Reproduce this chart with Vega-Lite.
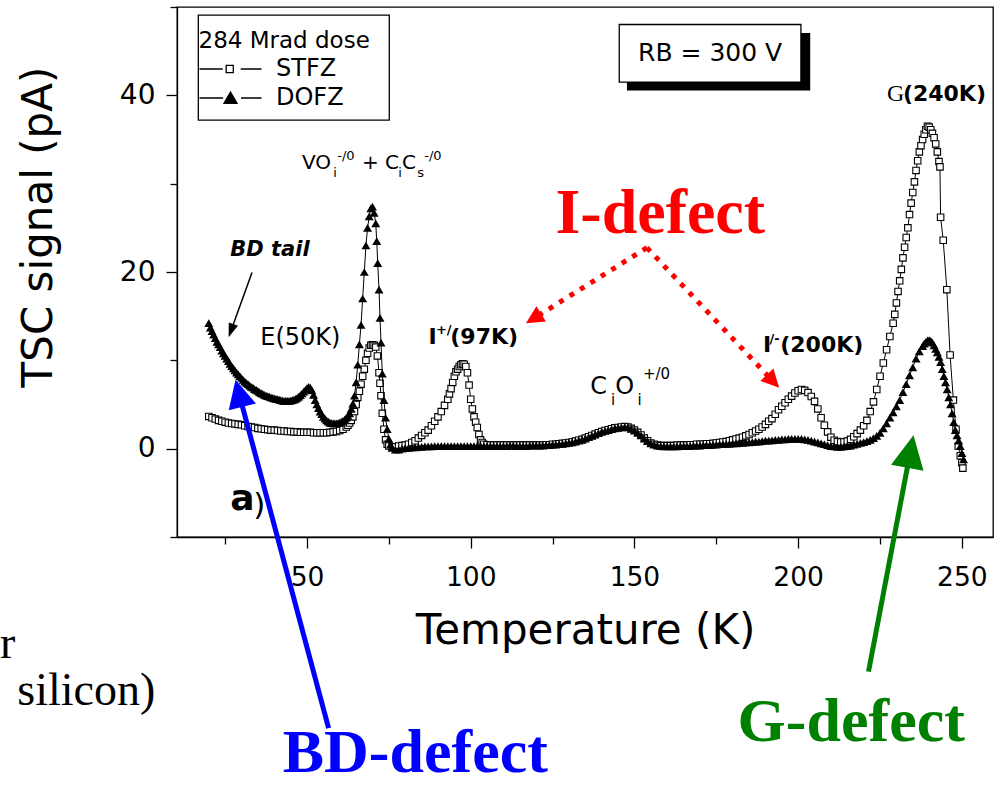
{
  "$schema": "https://vega.github.io/schema/vega-lite/v6.json",
  "width": 816,
  "height": 530,
  "autosize": {"type": "none"},
  "padding": {"left": 177, "top": 7, "right": 1, "bottom": 251},
  "background": "white",
  "config": {
    "view": {"stroke": "black", "strokeWidth": 1.3},
    "axis": {"grid": false, "domainColor": "black", "domainWidth": 1.3, "tickColor": "black", "tickWidth": 1.3, "labelColor": "black", "titleColor": "black", "labelFont": "DejaVu Sans", "titleFont": "DejaVu Sans", "titleFontWeight": "normal", "labelOverlap": false, "labelFlush": false},
    "text": {"font": "DejaVu Sans"}
  },
  "datasets": {
    "stfz": [
      {"T":20,"V":3.65},{"T":21,"V":3.5},{"T":22,"V":3.35},{"T":23,"V":3.2},{"T":24,"V":3.1},{"T":25,"V":3.0},{"T":26,"V":2.9},{"T":27,"V":2.85},{"T":28,"V":2.8},{"T":29,"V":2.75},{"T":30,"V":2.7},{"T":31,"V":2.6},{"T":32,"V":2.5},{"T":33,"V":2.45},{"T":34,"V":2.4},{"T":35,"V":2.3},{"T":36,"V":2.25},{"T":37,"V":2.2},{"T":38,"V":2.15},{"T":39,"V":2.1},{"T":40,"V":2.1},{"T":41,"V":2.05},{"T":42,"V":2.0},{"T":43,"V":2.0},{"T":44,"V":1.95},{"T":45,"V":1.95},{"T":46,"V":1.9},{"T":47,"V":1.9},{"T":48,"V":1.85},{"T":49,"V":1.85},{"T":50,"V":1.85},{"T":51,"V":1.85},{"T":52,"V":1.8},{"T":53,"V":1.8},{"T":54,"V":1.8},{"T":55,"V":1.8},{"T":56,"V":1.8},{"T":57,"V":1.85},{"T":58,"V":1.9},{"T":59,"V":1.95},{"T":60,"V":2.05},{"T":61,"V":2.2},{"T":62,"V":2.45},{"T":62.5,"V":2.65},{"T":63,"V":2.9},{"T":63.5,"V":3.2},{"T":64,"V":3.6},{"T":64.5,"V":4.2},{"T":65,"V":5.0},{"T":65.5,"V":5.8},{"T":66,"V":6.5},{"T":66.5,"V":7.3},{"T":67,"V":8.2},{"T":67.5,"V":9.0},{"T":68,"V":10.0},{"T":68.5,"V":10.8},{"T":69,"V":11.4},{"T":69.5,"V":11.7},{"T":70,"V":11.75},{"T":70.5,"V":11.7},{"T":71,"V":11.5},{"T":71.5,"V":10.5},{"T":72,"V":8.6},{"T":72.3,"V":7.4},{"T":72.6,"V":6.0},{"T":73,"V":4.0},{"T":73.5,"V":2.2},{"T":74,"V":1.0},{"T":74.5,"V":0.5},{"T":75,"V":0.3},{"T":76,"V":0.2},{"T":77,"V":0.2},{"T":78,"V":0.3},{"T":79,"V":0.35},{"T":80,"V":0.4},{"T":81,"V":0.5},{"T":82,"V":0.7},{"T":83,"V":0.9},{"T":84,"V":1.2},{"T":85,"V":1.5},{"T":86,"V":1.8},{"T":87,"V":2.1},{"T":88,"V":2.6},{"T":89,"V":3.1},{"T":90,"V":3.6},{"T":91,"V":4.2},{"T":92,"V":4.9},{"T":93,"V":5.6},{"T":93.5,"V":6.2},{"T":94,"V":6.8},{"T":94.5,"V":7.5},{"T":95,"V":8.2},{"T":95.5,"V":8.7},{"T":96,"V":9.0},{"T":96.5,"V":9.3},{"T":97,"V":9.5},{"T":97.5,"V":9.6},{"T":98,"V":9.55},{"T":98.5,"V":9.3},{"T":99,"V":8.6},{"T":99.5,"V":7.2},{"T":100,"V":5.6},{"T":100.5,"V":4.5},{"T":101,"V":3.6},{"T":101.5,"V":3.0},{"T":102,"V":2.4},{"T":102.5,"V":1.6},{"T":103,"V":1.0},{"T":103.5,"V":0.7},{"T":104,"V":0.5},{"T":105,"V":0.45},{"T":106,"V":0.4},{"T":107,"V":0.4},{"T":108,"V":0.4},{"T":109,"V":0.4},{"T":110,"V":0.4},{"T":111,"V":0.4},{"T":112,"V":0.4},{"T":113,"V":0.4},{"T":114,"V":0.4},{"T":115,"V":0.4},{"T":116,"V":0.4},{"T":117,"V":0.4},{"T":118,"V":0.4},{"T":119,"V":0.4},{"T":120,"V":0.4},{"T":121,"V":0.4},{"T":122,"V":0.4},{"T":123,"V":0.45},{"T":124,"V":0.45},{"T":125,"V":0.5},{"T":126,"V":0.5},{"T":127,"V":0.55},{"T":128,"V":0.6},{"T":129,"V":0.65},{"T":130,"V":0.7},{"T":131,"V":0.75},{"T":132,"V":0.85},{"T":133,"V":0.95},{"T":134,"V":1.05},{"T":135,"V":1.2},{"T":136,"V":1.35},{"T":137,"V":1.5},{"T":138,"V":1.65},{"T":139,"V":1.8},{"T":140,"V":1.95},{"T":141,"V":2.05},{"T":142,"V":2.15},{"T":143,"V":2.25},{"T":144,"V":2.35},{"T":145,"V":2.4},{"T":146,"V":2.45},{"T":147,"V":2.5},{"T":148,"V":2.45},{"T":149,"V":2.3},{"T":150,"V":2.1},{"T":151,"V":1.85},{"T":152,"V":1.55},{"T":153,"V":1.2},{"T":154,"V":0.9},{"T":155,"V":0.65},{"T":156,"V":0.5},{"T":157,"V":0.4},{"T":158,"V":0.35},{"T":159,"V":0.35},{"T":160,"V":0.35},{"T":161,"V":0.35},{"T":162,"V":0.35},{"T":163,"V":0.4},{"T":164,"V":0.4},{"T":165,"V":0.4},{"T":166,"V":0.4},{"T":167,"V":0.45},{"T":168,"V":0.45},{"T":169,"V":0.5},{"T":170,"V":0.5},{"T":171,"V":0.5},{"T":172,"V":0.55},{"T":173,"V":0.55},{"T":174,"V":0.6},{"T":175,"V":0.65},{"T":176,"V":0.7},{"T":177,"V":0.75},{"T":178,"V":0.8},{"T":179,"V":0.9},{"T":180,"V":1.0},{"T":181,"V":1.1},{"T":182,"V":1.2},{"T":183,"V":1.3},{"T":184,"V":1.45},{"T":185,"V":1.6},{"T":186,"V":1.8},{"T":187,"V":2.0},{"T":188,"V":2.2},{"T":189,"V":2.45},{"T":190,"V":2.75},{"T":191,"V":3.1},{"T":192,"V":3.4},{"T":193,"V":3.9},{"T":194,"V":4.4},{"T":195,"V":4.8},{"T":196,"V":5.2},{"T":197,"V":5.6},{"T":198,"V":5.95},{"T":199,"V":6.3},{"T":200,"V":6.55},{"T":201,"V":6.7},{"T":202,"V":6.6},{"T":203,"V":6.35},{"T":204,"V":5.9},{"T":205,"V":5.35},{"T":206,"V":4.5},{"T":207,"V":3.5},{"T":208,"V":2.65},{"T":209,"V":1.9},{"T":210,"V":1.3},{"T":211,"V":0.95},{"T":212,"V":0.8},{"T":213,"V":0.75},{"T":214,"V":0.75},{"T":215,"V":0.85},{"T":216,"V":1.05},{"T":217,"V":1.35},{"T":218,"V":1.7},{"T":219,"V":2.1},{"T":220,"V":2.6},{"T":221,"V":3.2},{"T":222,"V":4.2},{"T":223,"V":5.3},{"T":224,"V":6.7},{"T":225,"V":8.2},{"T":226,"V":9.7},{"T":227,"V":11.2},{"T":228,"V":12.7},{"T":229,"V":14.2},{"T":229.5,"V":15.2},{"T":230,"V":16.5},{"T":230.5,"V":17.8},{"T":231,"V":19.0},{"T":231.5,"V":20.3},{"T":232,"V":21.6},{"T":232.5,"V":22.8},{"T":233,"V":23.9},{"T":233.5,"V":25.0},{"T":234,"V":26.5},{"T":234.5,"V":27.8},{"T":235,"V":29.0},{"T":235.5,"V":30.2},{"T":236,"V":31.5},{"T":236.5,"V":32.6},{"T":237,"V":33.6},{"T":237.5,"V":34.3},{"T":238,"V":35.0},{"T":238.5,"V":35.6},{"T":239,"V":36.1},{"T":239.5,"V":36.5},{"T":240,"V":36.4},{"T":240.5,"V":36.1},{"T":241,"V":35.7},{"T":241.5,"V":35.2},{"T":242,"V":34.5},{"T":242.5,"V":33.6},{"T":243,"V":32.5},{"T":243.3,"V":31.9},{"T":243.5,"V":26.2},{"T":244.3,"V":23.6},{"T":245.4,"V":18.0},{"T":246.4,"V":10.6},{"T":247.4,"V":5.5},{"T":248.2,"V":2.2},{"T":248.9,"V":0.3},{"T":249.5,"V":-0.8},{"T":250,"V":-1.6},{"T":250.3,"V":-2.2}
    ],
    "dofz": [
      {"T":20,"V":14.2},{"T":20.5,"V":13.7},{"T":21,"V":13.3},{"T":21.5,"V":12.9},{"T":22,"V":12.5},{"T":22.5,"V":12.1},{"T":23,"V":11.8},{"T":23.5,"V":11.5},{"T":24,"V":11.1},{"T":24.5,"V":10.8},{"T":25,"V":10.5},{"T":25.5,"V":10.2},{"T":26,"V":9.9},{"T":26.5,"V":9.6},{"T":27,"V":9.35},{"T":27.5,"V":9.1},{"T":28,"V":8.85},{"T":28.5,"V":8.6},{"T":29,"V":8.4},{"T":29.5,"V":8.2},{"T":30,"V":8.0},{"T":30.5,"V":7.8},{"T":31,"V":7.6},{"T":31.5,"V":7.45},{"T":32,"V":7.3},{"T":32.5,"V":7.15},{"T":33,"V":7.0},{"T":33.5,"V":6.9},{"T":34,"V":6.75},{"T":34.5,"V":6.65},{"T":35,"V":6.55},{"T":35.5,"V":6.4},{"T":36,"V":6.3},{"T":36.5,"V":6.2},{"T":37,"V":6.1},{"T":37.5,"V":6.0},{"T":38,"V":5.95},{"T":38.5,"V":5.9},{"T":39,"V":5.8},{"T":39.5,"V":5.75},{"T":40,"V":5.7},{"T":40.5,"V":5.65},{"T":41,"V":5.6},{"T":41.5,"V":5.55},{"T":42,"V":5.5},{"T":42.5,"V":5.45},{"T":43,"V":5.4},{"T":43.5,"V":5.4},{"T":44,"V":5.4},{"T":44.5,"V":5.4},{"T":45,"V":5.45},{"T":45.5,"V":5.5},{"T":46,"V":5.55},{"T":46.5,"V":5.65},{"T":47,"V":5.75},{"T":47.5,"V":5.9},{"T":48,"V":6.05},{"T":48.5,"V":6.25},{"T":49,"V":6.45},{"T":49.5,"V":6.65},{"T":50,"V":6.85},{"T":50.5,"V":7.0},{"T":51,"V":6.9},{"T":51.5,"V":6.6},{"T":52,"V":6.1},{"T":52.5,"V":5.5},{"T":53,"V":5.0},{"T":53.5,"V":4.6},{"T":54,"V":4.2},{"T":54.5,"V":3.9},{"T":55,"V":3.6},{"T":55.5,"V":3.4},{"T":56,"V":3.2},{"T":56.5,"V":3.05},{"T":57,"V":2.95},{"T":57.5,"V":2.9},{"T":58,"V":2.85},{"T":58.5,"V":2.85},{"T":59,"V":2.85},{"T":59.5,"V":2.9},{"T":60,"V":2.95},{"T":60.5,"V":3.05},{"T":61,"V":3.15},{"T":61.5,"V":3.3},{"T":62,"V":3.5},{"T":62.5,"V":3.75},{"T":63,"V":4.0},{"T":63.5,"V":4.5},{"T":64,"V":5.1},{"T":64.5,"V":6.0},{"T":65,"V":7.5},{"T":65.5,"V":9.5},{"T":66,"V":11.8},{"T":66.5,"V":14.0},{"T":67,"V":17.0},{"T":67.5,"V":20.0},{"T":68,"V":23.0},{"T":68.5,"V":25.0},{"T":69,"V":26.3},{"T":69.5,"V":27.2},{"T":70,"V":27.4},{"T":70.5,"V":26.7},{"T":71,"V":25.5},{"T":71.3,"V":23.5},{"T":71.6,"V":21.0},{"T":72,"V":18.0},{"T":72.3,"V":14.8},{"T":72.6,"V":12.0},{"T":73,"V":8.5},{"T":73.5,"V":5.5},{"T":74,"V":3.5},{"T":74.5,"V":2.2},{"T":75,"V":1.1},{"T":75.5,"V":0.45},{"T":76,"V":0.1},{"T":77,"V":-0.1},{"T":78,"V":-0.1},{"T":79,"V":0.0},{"T":80,"V":0.05},{"T":81,"V":0.1},{"T":82,"V":0.15},{"T":83,"V":0.15},{"T":84,"V":0.2},{"T":85,"V":0.2},{"T":86,"V":0.25},{"T":87,"V":0.25},{"T":88,"V":0.25},{"T":89,"V":0.3},{"T":90,"V":0.3},{"T":91,"V":0.3},{"T":92,"V":0.3},{"T":93,"V":0.3},{"T":94,"V":0.3},{"T":95,"V":0.3},{"T":96,"V":0.3},{"T":97,"V":0.3},{"T":98,"V":0.3},{"T":99,"V":0.3},{"T":100,"V":0.3},{"T":101,"V":0.3},{"T":102,"V":0.3},{"T":103,"V":0.3},{"T":104,"V":0.3},{"T":105,"V":0.3},{"T":106,"V":0.3},{"T":107,"V":0.3},{"T":108,"V":0.3},{"T":109,"V":0.3},{"T":110,"V":0.3},{"T":111,"V":0.3},{"T":112,"V":0.35},{"T":113,"V":0.35},{"T":114,"V":0.3},{"T":115,"V":0.3},{"T":116,"V":0.3},{"T":117,"V":0.3},{"T":118,"V":0.35},{"T":119,"V":0.35},{"T":120,"V":0.35},{"T":121,"V":0.35},{"T":122,"V":0.35},{"T":123,"V":0.4},{"T":124,"V":0.4},{"T":125,"V":0.45},{"T":126,"V":0.45},{"T":127,"V":0.5},{"T":128,"V":0.55},{"T":129,"V":0.6},{"T":130,"V":0.65},{"T":131,"V":0.7},{"T":132,"V":0.8},{"T":133,"V":0.9},{"T":134,"V":1.0},{"T":135,"V":1.15},{"T":136,"V":1.3},{"T":137,"V":1.45},{"T":138,"V":1.6},{"T":139,"V":1.75},{"T":140,"V":1.9},{"T":141,"V":2.0},{"T":142,"V":2.1},{"T":143,"V":2.2},{"T":144,"V":2.3},{"T":145,"V":2.35},{"T":146,"V":2.4},{"T":147,"V":2.45},{"T":148,"V":2.4},{"T":149,"V":2.25},{"T":150,"V":2.05},{"T":151,"V":1.8},{"T":152,"V":1.5},{"T":153,"V":1.15},{"T":154,"V":0.85},{"T":155,"V":0.6},{"T":156,"V":0.45},{"T":157,"V":0.35},{"T":158,"V":0.3},{"T":159,"V":0.25},{"T":160,"V":0.25},{"T":161,"V":0.25},{"T":162,"V":0.25},{"T":163,"V":0.25},{"T":164,"V":0.3},{"T":165,"V":0.3},{"T":166,"V":0.3},{"T":167,"V":0.3},{"T":168,"V":0.35},{"T":169,"V":0.35},{"T":170,"V":0.35},{"T":171,"V":0.4},{"T":172,"V":0.4},{"T":173,"V":0.4},{"T":174,"V":0.45},{"T":175,"V":0.45},{"T":176,"V":0.5},{"T":177,"V":0.5},{"T":178,"V":0.55},{"T":179,"V":0.55},{"T":180,"V":0.6},{"T":181,"V":0.6},{"T":182,"V":0.65},{"T":183,"V":0.65},{"T":184,"V":0.7},{"T":185,"V":0.7},{"T":186,"V":0.75},{"T":187,"V":0.8},{"T":188,"V":0.8},{"T":189,"V":0.85},{"T":190,"V":0.9},{"T":191,"V":0.9},{"T":192,"V":0.95},{"T":193,"V":1.0},{"T":194,"V":1.0},{"T":195,"V":1.05},{"T":196,"V":1.05},{"T":197,"V":1.1},{"T":198,"V":1.1},{"T":199,"V":1.1},{"T":200,"V":1.1},{"T":201,"V":1.1},{"T":202,"V":1.05},{"T":203,"V":1.0},{"T":204,"V":0.9},{"T":205,"V":0.8},{"T":206,"V":0.7},{"T":207,"V":0.6},{"T":208,"V":0.5},{"T":209,"V":0.4},{"T":210,"V":0.3},{"T":211,"V":0.25},{"T":212,"V":0.2},{"T":213,"V":0.2},{"T":214,"V":0.25},{"T":215,"V":0.3},{"T":216,"V":0.35},{"T":217,"V":0.45},{"T":218,"V":0.55},{"T":219,"V":0.65},{"T":220,"V":0.75},{"T":221,"V":0.85},{"T":222,"V":1.0},{"T":223,"V":1.2},{"T":224,"V":1.45},{"T":225,"V":1.8},{"T":226,"V":2.3},{"T":227,"V":2.85},{"T":228,"V":3.5},{"T":229,"V":4.1},{"T":230,"V":4.8},{"T":231,"V":5.5},{"T":232,"V":6.4},{"T":233,"V":7.3},{"T":234,"V":8.3},{"T":235,"V":9.2},{"T":236,"V":10.2},{"T":237,"V":11.0},{"T":238,"V":11.6},{"T":238.5,"V":11.9},{"T":239,"V":12.1},{"T":239.5,"V":12.25},{"T":240,"V":12.3},{"T":240.5,"V":12.2},{"T":241,"V":12.0},{"T":241.5,"V":11.7},{"T":242,"V":11.3},{"T":242.5,"V":10.9},{"T":243,"V":10.4},{"T":243.5,"V":9.8},{"T":244,"V":9.0},{"T":244.5,"V":8.2},{"T":245,"V":7.5},{"T":245.5,"V":6.7},{"T":246,"V":5.8},{"T":246.5,"V":5.0},{"T":247,"V":4.0},{"T":247.5,"V":3.0},{"T":248,"V":2.1},{"T":248.5,"V":1.5},{"T":249,"V":0.9},{"T":249.5,"V":0.3},{"T":250,"V":-0.5},{"T":250.5,"V":-1.2}
    ]
  },
  "layer": [
    {
      "data": {"values": [{"T": 16.81, "V": 37.2, "T2": 75.13, "V2": 49.07}]},
      "mark": {"type": "rect", "fill": "white", "stroke": "black", "strokeWidth": 1.3},
      "encoding": {
        "x": {"field": "T", "type": "quantitative", "scale": {"domain": [10.3, 259.5], "nice": false, "zero": false},
          "axis": {"title": "Temperature (K)", "values": [25, 50, 75, 100, 125, 150, 175, 200, 225, 250],
            "labelExpr": "datum.value % 50 === 0 ? datum.label : ''",
            "tickSize": {"condition": {"test": "datum.value % 50 === 0", "value": 11}, "value": 7},
            "labelFontSize": 26.5, "labelPadding": 37, "labelBaseline": "alphabetic",
            "titleFontSize": 42, "titleX": 408, "titleY": 106.3, "titleBaseline": "alphabetic", "titleAlign": "center"}},
        "x2": {"field": "T2"},
        "y": {"field": "V", "type": "quantitative", "scale": {"domain": [-10, 50], "nice": false, "zero": false},
          "axis": {"title": "TSC signal (pA)", "values": [-10, 0, 10, 20, 30, 40, 50],
            "labelExpr": "datum.value % 20 === 0 ? datum.label : ''",
            "tickSize": {"condition": {"test": "datum.value % 20 === 0", "value": 11}, "value": 7},
            "labelFontSize": 28, "labelPadding": 11,
            "titleFontSize": 42, "titleX": -126, "titleY": 219.5, "titleAngle": -90, "titleBaseline": "alphabetic", "titleAlign": "center"}},
        "y2": {"field": "V2"}
      }
    },
    {
      "data": {"values": [{"T": 147.71, "V": 40.56, "T2": 203.68, "V2": 47.07}]},
      "mark": {"type": "rect", "fill": "black"},
      "encoding": {"x": {"field": "T", "type": "quantitative"}, "x2": {"field": "T2"}, "y": {"field": "V", "type": "quantitative"}, "y2": {"field": "V2"}}
    },
    {
      "data": {"values": [{"T": 145.36, "V": 41.5, "T2": 200.84, "V2": 48.02}]},
      "mark": {"type": "rect", "fill": "white", "stroke": "black", "strokeWidth": 1.3},
      "encoding": {"x": {"field": "T", "type": "quantitative"}, "x2": {"field": "T2"}, "y": {"field": "V", "type": "quantitative"}, "y2": {"field": "V2"}}
    },
    {
      "data": {"values": [{"T": 173.1, "V": 44.78, "label": "RB = 300 V"}]},
      "mark": {"type": "text", "font": "DejaVu Sans", "fontSize": 25, "align": "center", "baseline": "middle", "color": "black"},
      "encoding": {"x": {"field": "T", "type": "quantitative"}, "y": {"field": "V", "type": "quantitative"}, "text": {"field": "label"}}
    },
    {
      "data": {"name": "stfz"},
      "mark": {"type": "line", "color": "black", "strokeWidth": 1},
      "encoding": {"x": {"field": "T", "type": "quantitative"}, "y": {"field": "V", "type": "quantitative"}}
    },
    {
      "data": {"name": "stfz"},
      "mark": {"type": "point", "shape": "square", "filled": true, "fill": "white", "stroke": "black", "strokeWidth": 1.1, "size": 42, "opacity": 1},
      "encoding": {"x": {"field": "T", "type": "quantitative"}, "y": {"field": "V", "type": "quantitative"}}
    },
    {
      "data": {"name": "dofz"},
      "mark": {"type": "line", "color": "black", "strokeWidth": 1},
      "encoding": {"x": {"field": "T", "type": "quantitative"}, "y": {"field": "V", "type": "quantitative"}}
    },
    {
      "data": {"name": "dofz"},
      "mark": {"type": "point", "shape": "triangle-up", "filled": true, "color": "black", "size": 80, "opacity": 1},
      "encoding": {"x": {"field": "T", "type": "quantitative"}, "y": {"field": "V", "type": "quantitative"}}
    },
    {
      "data": {"values": [{"T": 35.74, "V": 11.79, "label": "E(50K)"}]},
      "mark": {"type": "text", "font": "DejaVu Sans", "fontSize": 24, "align": "left", "baseline": "alphabetic", "color": "black"},
      "encoding": {"x": {"field": "T", "type": "quantitative"}, "y": {"field": "V", "type": "quantitative"}, "text": {"field": "label"}}
    },
    {
      "data": {"values": [{"T": 48.47, "V": 31.64, "label": "VO"}, {"T": 66.79, "V": 31.64, "label": "+ C"}, {"T": 79.01, "V": 31.64, "label": "C"}]},
      "mark": {"type": "text", "font": "DejaVu Sans", "fontSize": 20, "align": "left", "baseline": "alphabetic", "color": "black"},
      "encoding": {"x": {"field": "T", "type": "quantitative"}, "y": {"field": "V", "type": "quantitative"}, "text": {"field": "label"}}
    },
    {
      "data": {"values": [{"T": 58.03, "V": 30.8, "label": "i"}, {"T": 77.88, "V": 30.8, "label": "i"}, {"T": 83.68, "V": 30.8, "label": "s"}, {"T": 59.24, "V": 32.66, "label": "-/0"}, {"T": 85.82, "V": 32.66, "label": "-/0"}]},
      "mark": {"type": "text", "font": "DejaVu Sans", "fontSize": 13, "align": "left", "baseline": "alphabetic", "color": "black"},
      "encoding": {"x": {"field": "T", "type": "quantitative"}, "y": {"field": "V", "type": "quantitative"}, "text": {"field": "label"}}
    },
    {
      "data": {"values": [{"T": 136.5, "V": 6.21, "label": "C"}, {"T": 144.14, "V": 6.21, "label": "O"}]},
      "mark": {"type": "text", "font": "DejaVu Sans", "fontSize": 24, "align": "left", "baseline": "alphabetic", "color": "black"},
      "encoding": {"x": {"field": "T", "type": "quantitative"}, "y": {"field": "V", "type": "quantitative"}, "text": {"field": "label"}}
    },
    {
      "data": {"values": [{"T": 142.82, "V": 4.89, "label": "i"}, {"T": 150.95, "V": 4.89, "label": "i"}, {"T": 152.6, "V": 7.94, "label": "+/0"}]},
      "mark": {"type": "text", "font": "DejaVu Sans", "fontSize": 15, "align": "left", "baseline": "alphabetic", "color": "black"},
      "encoding": {"x": {"field": "T", "type": "quantitative"}, "y": {"field": "V", "type": "quantitative"}, "text": {"field": "label"}}
    },
    {
      "data": {"values": [{"T": 87.13, "V": 11.86, "label": "I"}, {"T": 93.76, "V": 11.86, "label": "(97K)"}, {"T": 189.24, "V": 10.92, "label": "I"}, {"T": 194.52, "V": 10.92, "label": "(200K)"}, {"T": 231.98, "V": 39.36, "label": "(240K)"}]},
      "mark": {"type": "text", "font": "DejaVu Sans", "fontSize": 22, "fontWeight": "bold", "align": "left", "baseline": "alphabetic", "color": "black"},
      "encoding": {"x": {"field": "T", "type": "quantitative"}, "y": {"field": "V", "type": "quantitative"}, "text": {"field": "label"}}
    },
    {
      "data": {"values": [{"T": 89.39, "V": 13.03, "label": "+/"}, {"T": 191.25, "V": 12.0, "label": "/-"}]},
      "mark": {"type": "text", "font": "DejaVu Sans", "fontSize": 13, "fontWeight": "bold", "align": "left", "baseline": "alphabetic", "color": "black"},
      "encoding": {"x": {"field": "T", "type": "quantitative"}, "y": {"field": "V", "type": "quantitative"}, "text": {"field": "label"}}
    },
    {
      "data": {"values": [{"T": 227.1, "V": 39.36, "label": "G"}]},
      "mark": {"type": "text", "font": "Liberation Serif", "fontSize": 24, "align": "left", "baseline": "alphabetic", "color": "black"},
      "encoding": {"x": {"field": "T", "type": "quantitative"}, "y": {"field": "V", "type": "quantitative"}, "text": {"field": "label"}}
    },
    {
      "data": {"values": [{"T": 26.58, "V": 21.84, "label": "BD tail"}]},
      "mark": {"type": "text", "font": "DejaVu Sans", "fontSize": 21, "fontWeight": "bold", "fontStyle": "italic", "align": "left", "baseline": "alphabetic", "color": "black"},
      "encoding": {"x": {"field": "T", "type": "quantitative"}, "y": {"field": "V", "type": "quantitative"}, "text": {"field": "label"}}
    },
    {
      "data": {"values": [{"T": 26.58, "V": -6.97, "label": "a"}]},
      "mark": {"type": "text", "font": "DejaVu Sans", "fontSize": 36, "fontWeight": "bold", "align": "left", "baseline": "alphabetic", "color": "black"},
      "encoding": {"x": {"field": "T", "type": "quantitative"}, "y": {"field": "V", "type": "quantitative"}, "text": {"field": "label"}}
    },
    {
      "data": {"values": [{"T": 33.6, "V": -7.49, "label": ")"}]},
      "mark": {"type": "text", "font": "DejaVu Sans", "fontSize": 31, "align": "left", "baseline": "alphabetic", "color": "black"},
      "encoding": {"x": {"field": "T", "type": "quantitative"}, "y": {"field": "V", "type": "quantitative"}, "text": {"field": "label"}}
    },
    {
      "data": {"values": [{"T": -39.07, "V": -23.73, "label": "r"}]},
      "mark": {"type": "text", "font": "Liberation Serif", "fontSize": 46, "align": "right", "baseline": "alphabetic", "color": "black"},
      "encoding": {"x": {"field": "T", "type": "quantitative"}, "y": {"field": "V", "type": "quantitative"}, "text": {"field": "label"}}
    },
    {
      "data": {"values": [{"T": -38.46, "V": -29.0, "label": "silicon)"}]},
      "mark": {"type": "text", "font": "Liberation Serif", "fontSize": 46, "align": "left", "baseline": "alphabetic", "color": "black"},
      "encoding": {"x": {"field": "T", "type": "quantitative"}, "y": {"field": "V", "type": "quantitative"}, "text": {"field": "label"}}
    },
    {
      "data": {"values": [{"T": 153.82, "V": 22.75, "T2": 119.19, "V2": 14.73}, {"T": 153.82, "V": 22.75, "T2": 192.32, "V2": 7.63}]},
      "mark": {"type": "rule", "color": "#ff0000", "strokeWidth": 5, "strokeDash": [5, 7.3], "strokeCap": "butt"},
      "encoding": {"x": {"field": "T", "type": "quantitative"}, "y": {"field": "V", "type": "quantitative"}, "x2": {"field": "T2"}, "y2": {"field": "V2"}}
    },
    {
      "data": {"values": [{"T": 119.19, "V": 14.73}]},
      "mark": {"type": "point", "shape": "M0,-1L1,1L-1,1Z", "filled": true, "color": "#ff0000", "size": 324, "angle": 237.97, "opacity": 1},
      "encoding": {"x": {"field": "T", "type": "quantitative"}, "y": {"field": "V", "type": "quantitative"}}
    },
    {
      "data": {"values": [{"T": 192.32, "V": 7.63}]},
      "mark": {"type": "point", "shape": "M0,-1L1,1L-1,1Z", "filled": true, "color": "#ff0000", "size": 324, "angle": 136.68, "opacity": 1},
      "encoding": {"x": {"field": "T", "type": "quantitative"}, "y": {"field": "V", "type": "quantitative"}}
    },
    {
      "data": {"values": [{"T": 33.21, "V": 19.95, "T2": 26.79, "V2": 13.36}]},
      "mark": {"type": "rule", "color": "black", "strokeWidth": 1.5},
      "encoding": {"x": {"field": "T", "type": "quantitative"}, "y": {"field": "V", "type": "quantitative"}, "x2": {"field": "T2"}, "y2": {"field": "V2"}}
    },
    {
      "data": {"values": [{"T": 26.79, "V": 13.36}]},
      "mark": {"type": "point", "shape": "M0,-1L0.7,1L-0.7,1Z", "filled": true, "color": "black", "size": 196, "angle": 199.8, "opacity": 1},
      "encoding": {"x": {"field": "T", "type": "quantitative"}, "y": {"field": "V", "type": "quantitative"}}
    },
    {
      "data": {"values": [{"T": 56.6, "V": -31.64, "T2": 29.21, "V2": 6.27}]},
      "mark": {"type": "rule", "color": "#0000ff", "strokeWidth": 5},
      "encoding": {"x": {"field": "T", "type": "quantitative"}, "y": {"field": "V", "type": "quantitative"}, "x2": {"field": "T2"}, "y2": {"field": "V2"}}
    },
    {
      "data": {"values": [{"T": 29.21, "V": 6.27}]},
      "mark": {"type": "point", "shape": "M0,-1L1,1L-1,1Z", "filled": true, "color": "#0000ff", "size": 784, "angle": 346, "opacity": 1},
      "encoding": {"x": {"field": "T", "type": "quantitative"}, "y": {"field": "V", "type": "quantitative"}}
    },
    {
      "data": {"values": [{"T": 221.48, "V": -25.24, "T2": 234.27, "V2": -0.33}]},
      "mark": {"type": "rule", "color": "#008000", "strokeWidth": 5},
      "encoding": {"x": {"field": "T", "type": "quantitative"}, "y": {"field": "V", "type": "quantitative"}, "x2": {"field": "T2"}, "y2": {"field": "V2"}}
    },
    {
      "data": {"values": [{"T": 234.27, "V": -0.33}]},
      "mark": {"type": "point", "shape": "M0,-1L1,1L-1,1Z", "filled": true, "color": "#008000", "size": 1089, "angle": 10.76, "opacity": 1},
      "encoding": {"x": {"field": "T", "type": "quantitative"}, "y": {"field": "V", "type": "quantitative"}}
    },
    {
      "data": {"values": [{"T": 157.88, "V": 24.44, "label": "I-defect"}]},
      "mark": {"type": "text", "font": "Liberation Serif", "fontSize": 64, "fontWeight": "bold", "align": "center", "baseline": "alphabetic", "color": "#ff0000"},
      "encoding": {"x": {"field": "T", "type": "quantitative"}, "y": {"field": "V", "type": "quantitative"}, "text": {"field": "label"}}
    },
    {
      "data": {"values": [{"T": 83.07, "V": -36.55, "label": "BD-defect"}]},
      "mark": {"type": "text", "font": "Liberation Serif", "fontSize": 62, "fontWeight": "bold", "align": "center", "baseline": "alphabetic", "color": "#0000ff"},
      "encoding": {"x": {"field": "T", "type": "quantitative"}, "y": {"field": "V", "type": "quantitative"}, "text": {"field": "label"}}
    },
    {
      "data": {"values": [{"T": 216.2, "V": -33.04, "label": "G-defect"}]},
      "mark": {"type": "text", "font": "Liberation Serif", "fontSize": 62, "fontWeight": "bold", "align": "center", "baseline": "alphabetic", "color": "#008000"},
      "encoding": {"x": {"field": "T", "type": "quantitative"}, "y": {"field": "V", "type": "quantitative"}, "text": {"field": "label"}}
    },
    {
      "data": {"values": [{"series": "STFZ"}, {"series": "DOFZ"}]},
      "mark": {"type": "point", "filled": true, "opacity": 0, "strokeWidth": 1.2, "size": 3844},
      "encoding": {
        "shape": {"field": "series", "type": "nominal",
          "scale": {"domain": ["STFZ", "DOFZ"], "range": ["M-1,0H-0.25M0.33,0H1M-0.14,-0.115H0.09V0.115H-0.14Z", "M-1,0H-0.24M0.34,0H1M0,-0.19L0.21,0.17L-0.21,0.17Z"]},
          "legend": {"title": "284 Mrad dose", "orient": "none", "legendX": 21.5, "legendY": 22.5, "direction": "vertical", "padding": 0,
            "titleFont": "DejaVu Sans", "titleFontSize": 23, "titleFontWeight": "normal", "titleColor": "black", "titlePadding": 3.5, "titleLimit": 400,
            "labelFont": "DejaVu Sans", "labelFontSize": 24, "labelColor": "black", "labelOffset": 13.5,
            "clipHeight": 26, "rowPadding": 3, "symbolSize": 3844, "symbolStrokeWidth": 1.3, "symbolOpacity": 1}},
        "fill": {"field": "series", "type": "nominal",
          "scale": {"domain": ["STFZ", "DOFZ"], "range": ["white", "black"]},
          "legend": {"title": "284 Mrad dose", "orient": "none", "legendX": 21.5, "legendY": 22.5, "direction": "vertical", "padding": 0,
            "titleFont": "DejaVu Sans", "titleFontSize": 23, "titleFontWeight": "normal", "titleColor": "black", "titlePadding": 3.5, "titleLimit": 400,
            "labelFont": "DejaVu Sans", "labelFontSize": 24, "labelColor": "black", "labelOffset": 13.5,
            "clipHeight": 26, "rowPadding": 3, "symbolSize": 3844, "symbolStrokeWidth": 1.3, "symbolOpacity": 1}},
        "stroke": {"field": "series", "type": "nominal",
          "scale": {"domain": ["STFZ", "DOFZ"], "range": ["black", "black"]},
          "legend": {"title": "284 Mrad dose", "orient": "none", "legendX": 21.5, "legendY": 22.5, "direction": "vertical", "padding": 0,
            "titleFont": "DejaVu Sans", "titleFontSize": 23, "titleFontWeight": "normal", "titleColor": "black", "titlePadding": 3.5, "titleLimit": 400,
            "labelFont": "DejaVu Sans", "labelFontSize": 24, "labelColor": "black", "labelOffset": 13.5,
            "clipHeight": 26, "rowPadding": 3, "symbolSize": 3844, "symbolStrokeWidth": 1.3, "symbolOpacity": 1}}
      }
    }
  ]
}
